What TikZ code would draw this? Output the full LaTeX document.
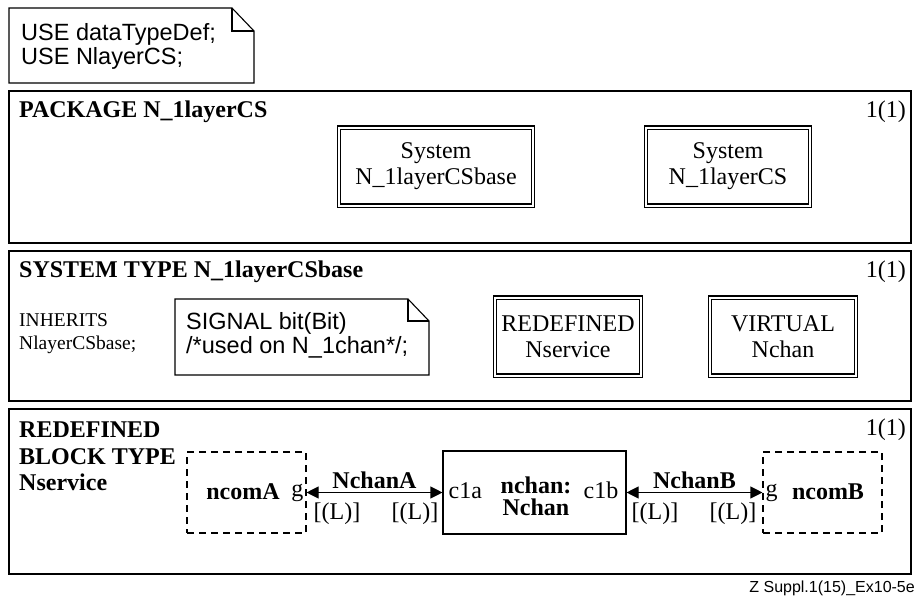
\documentclass[tikz,border=0pt]{standalone}
\usepackage{fontspec}
\setmainfont{Liberation Serif}
\setsansfont{Liberation Sans}
\usepackage{tikz}
\usetikzlibrary{arrows.meta,positioning,calc}
\newcommand{\sdltxt}{\fontsize{24}{26}\selectfont}
\newcommand{\notetxt}{\fontsize{23.5}{24}\selectfont\sffamily}

\begin{document}
\begin{tikzpicture}[x=1pt,y=-1pt,
  frame/.style={line width=1.6pt},
  dbox/.style={draw,double,double distance=2pt,line width=1.1pt,align=center,font=\sdltxt,
    minimum width=#1,minimum height=78pt,inner sep=0pt},
  virt/.style={draw,dash pattern=on 7pt off 5pt,line width=1.1pt,minimum width=119pt,minimum height=81pt,inner sep=0pt},
  chan/.style={{Triangle[length=12pt,width=12pt]}-{Triangle[length=12pt,width=12pt]},line width=1.1pt}]
  \useasboundingbox (0,0) rectangle (919,597);

  % use note
  \draw[line width=1.1pt] (9,8) -- (232,8) -- (254,31) -- (254,83) -- (9,83) -- cycle;
  \draw[line width=1.1pt] (232,8) -- (232,31) -- (254,31);
  \node[anchor=west,align=left,font=\notetxt,inner sep=0pt] (use) at (21,46) {USE dataTypeDef;\\USE NlayerCS;};

  % package frame
  \draw[frame] (9,91) rectangle (911,243);
  \node[anchor=west,font=\sdltxt\bfseries,inner sep=0pt] (pkg) at (19,112) {PACKAGE N\_1layerCS};
  \node[anchor=east,font=\sdltxt,inner sep=0pt] (pg1) at (906,112) {1(1)};
  \node[dbox=194pt] (sysbase) at (436,166.5) {System\\N\_1layerCSbase};
  \node[dbox=164pt] (sys) at (728,166.5) {System\\N\_1layerCS};

  % system type frame
  \draw[frame] (9,251) rectangle (911,401);
  \node[anchor=west,font=\sdltxt\bfseries,inner sep=0pt] (systype) at (19,272) {SYSTEM TYPE N\_1layerCSbase};
  \node[anchor=east,font=\sdltxt,inner sep=0pt] (pg2) at (906,272) {1(1)};
  \node[anchor=west,align=left,font=\fontsize{19.5}{23}\selectfont,inner sep=0pt] (inh) at (19,334) {INHERITS\\NlayerCSbase;};
  \draw[line width=1.1pt] (175,299) -- (408,299) -- (429,321) -- (429,375) -- (175,375) -- cycle;
  \draw[line width=1.1pt] (408,299) -- (408,321) -- (429,321);
  \node[anchor=west,align=left,font=\notetxt,inner sep=0pt] (sig) at (186,335) {SIGNAL bit(Bit)\\/*used on N\_1chan*/;};
  \node[dbox=146pt] (redef) at (568,336.5) {REDEFINED\\Nservice};
  \node[dbox=146pt] (virtual) at (783,336.5) {VIRTUAL\\Nchan};

  % block type frame
  \draw[frame] (9,409) rectangle (911,574);
  \node[anchor=north west,align=left,font=\fontsize{24}{26.5}\selectfont\bfseries,inner sep=0pt] (blk) at (19,422) {REDEFINED\\BLOCK TYPE\\Nservice};
  \node[anchor=east,font=\sdltxt,inner sep=0pt] (pg3) at (906,430) {1(1)};

  \node[virt] (ncomA) at (246.5,492.5) {};
  \node[font=\sdltxt\bfseries] at (243,492) {ncomA};
  \node[anchor=east,font=\sdltxt,inner sep=3pt] (gA) at (ncomA.east) {g};
  \node[draw,line width=1.1pt,minimum width=183pt,minimum height=83pt,inner sep=0pt] (nchan) at (534.5,492.5) {};
  \node[font=\fontsize{24}{22}\selectfont\bfseries,align=center] at (536,496) {nchan:\\Nchan};
  \node[anchor=west,font=\sdltxt,inner sep=0pt] (c1a) at ($(nchan.west)+(6,-2)$) {c1a};
  \node[anchor=east,font=\sdltxt,inner sep=0pt] (c1b) at ($(nchan.east)+(-8,-2)$) {c1b};
  \node[virt] (ncomB) at (822.5,492.5) {};
  \node[font=\sdltxt\bfseries] at (828,492) {ncomB};
  \node[anchor=west,font=\sdltxt,inner sep=3pt] (gB) at (ncomB.west) {g};

  \draw[chan] (ncomA.east) -- node[above,font=\sdltxt\bfseries,inner sep=3pt]{NchanA} (nchan.west);
  \draw[chan] (nchan.east) -- node[above,font=\sdltxt\bfseries,inner sep=3pt]{NchanB} (ncomB.west);
  \node[font=\sdltxt] at (337,514) {[(L)]};
  \node[font=\sdltxt] at (415,514) {[(L)]};
  \node[font=\sdltxt] at (655,514) {[(L)]};
  \node[font=\sdltxt] at (733,514) {[(L)]};

  % footer
  \node[anchor=east,font=\fontsize{16}{18}\selectfont\sffamily,inner sep=0pt] (ref) at (915,588) {Z Suppl.1(15)\_Ex10-5e};
\end{tikzpicture}
\end{document}
